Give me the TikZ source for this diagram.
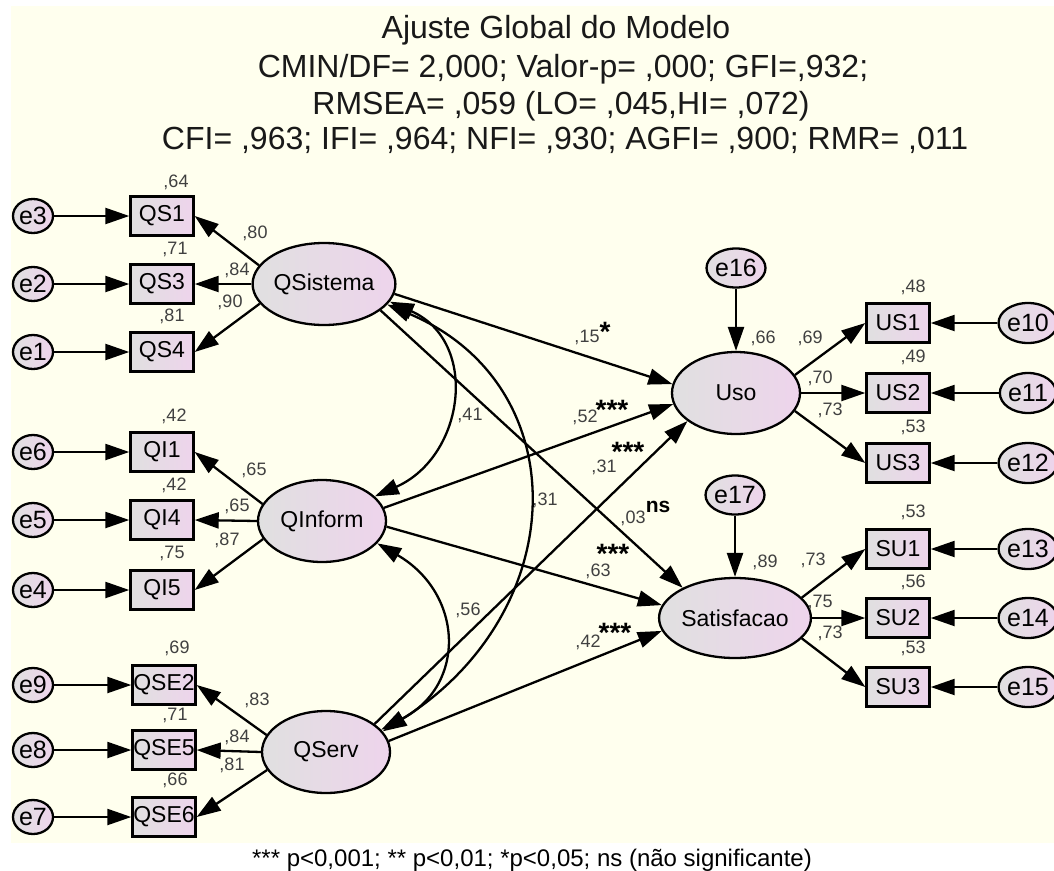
\documentclass[tikz,border=0pt]{standalone}
\usepackage{fontspec}
\setmainfont{Liberation Sans}
\usetikzlibrary{shapes.geometric,arrows.meta}
\definecolor{cream}{RGB}{255,255,238}
\definecolor{shgray}{RGB}{224,224,224}
\definecolor{shpink}{RGB}{238,212,236}
\definecolor{coefgray}{RGB}{64,64,64}
\newcommand{\fsz}[1]{\fontsize{#1}{#1}\selectfont}
\tikzset{
  shadefill/.style={left color=shgray, right color=shpink},
  latent/.style={ellipse, draw, line width=2.3pt, shadefill, inner sep=0pt,
    minimum width=128pt, minimum height=82pt, font=\fsz{23}},
  obsbox/.style={rectangle, draw, line width=2.4pt, shadefill, inner sep=0pt,
    minimum width=63pt, minimum height=39pt, font=\fsz{23}},
  errc/.style={ellipse, draw, line width=2.3pt, shadefill, inner sep=0pt,
    minimum width=40pt, minimum height=34pt, font=\fsz{25}},
  errbig/.style={errc, minimum width=48pt, minimum height=39pt},
  errr/.style={errc, minimum width=40pt, minimum height=40pt},
  tip/.tip={Triangle[length=24pt,width=16pt]},
  pth/.style={line width=2.3pt, -tip},
  cov/.style={line width=2.3pt, tip-tip},
  coef/.style={font=\fsz{18}, text=coefgray, inner sep=0pt},
  sig/.style={font=\bfseries\fsz{28}, anchor=base, inner sep=0pt, text depth=0pt},
  nsmark/.style={font=\bfseries\fsz{21}, inner sep=0pt},
  titleline/.style={font=\fsz{32}, text=black!90, anchor=base, inner sep=0pt},
}
\begin{document}
\begin{tikzpicture}[x=1pt,y=-1pt]
\useasboundingbox (0,0) rectangle (1054,870);
\fill[white] (0,0) rectangle (1054,870);
\fill[cream] (11,6) rectangle (1054,843);

% fit indices
\node[titleline] (t1) at (556,38) {Ajuste Global do Modelo};
\node[titleline] (t2) at (563,77) {CMIN/DF= 2,000; Valor-p= ,000; GFI=,932;};
\node[titleline] (t3) at (561,114) {RMSEA= ,059 (LO= ,045,HI= ,072)};
\node[titleline] (t4) at (565,149) {CFI= ,963; IFI= ,964; NFI= ,930; AGFI= ,900; RMR= ,011};

% ---- QSistema block
\node[latent] (QSistema) at (324,284) {QSistema};
\node[obsbox] (QS1) at (162,216) {QS1};
\node[obsbox] (QS3) at (162,284) {QS3};
\node[obsbox] (QS4) at (162,352) {QS4};
\node[errc] (e3) at (33,216) {e3};
\node[errc] (e2) at (33,284) {e2};
\node[errc] (e1) at (33,352) {e1};

% ---- QInform block
\node[latent] (QInform) at (322,521) {QInform};
\node[obsbox] (QI1) at (162,452) {QI1};
\node[obsbox] (QI4) at (162,520) {QI4};
\node[obsbox] (QI5) at (162,590) {QI5};
\node[errc] (e6) at (33,452) {e6};
\node[errc] (e5) at (33,520) {e5};
\node[errc] (e4) at (33,590) {e4};

% ---- QServ block
\node[latent] (QServ) at (326,752) {QServ};
\node[obsbox] (QSE2) at (164,685) {QSE2};
\node[obsbox] (QSE5) at (164,750) {QSE5};
\node[obsbox] (QSE6) at (164,817) {QSE6};
\node[errc] (e9) at (33,685) {e9};
\node[errc] (e8) at (33,750) {e8};
\node[errc] (e7) at (33,817) {e7};

% ---- Uso block
\node[latent] (Uso) at (736,393) {Uso};
\node[errbig] (e16) at (736,268) {e16};
\node[obsbox] (US1) at (898,323) {US1};
\node[obsbox] (US2) at (898,393) {US2};
\node[obsbox] (US3) at (898,463) {US3};
\node[errr] (e10) at (1028,323) {e10};
\node[errr] (e11) at (1028,393) {e11};
\node[errr] (e12) at (1028,463) {e12};

% ---- Satisfacao block
\node[latent, minimum width=125pt, minimum height=80pt] (Satisfacao) at (735,618) {Satisfacao};
\node[errbig] (e17) at (735,495) {e17};
\node[obsbox] (SU1) at (898,549) {SU1};
\node[obsbox] (SU2) at (898,618) {SU2};
\node[obsbox] (SU3) at (898,687) {SU3};
\node[errr] (e13) at (1028,549) {e13};
\node[errr] (e14) at (1028,618) {e14};
\node[errr] (e15) at (1028,687) {e15};

% error terms
\foreach \e/\v in {e3/QS1,e2/QS3,e1/QS4,e6/QI1,e5/QI4,e4/QI5,e9/QSE2,e8/QSE5,e7/QSE6,
                   e10/US1,e11/US2,e12/US3,e13/SU1,e14/SU2,e15/SU3,e16/Uso,e17/Satisfacao}
  \draw[pth] (\e) -- (\v);

% measurement loadings
\foreach \f/\a/\b/\c in {QSistema/QS1/QS3/QS4, QInform/QI1/QI4/QI5, QServ/QSE2/QSE5/QSE6}{
  \draw[pth] (\f.164) -- (\a.east);
  \draw[pth] (\f.180) -- (\b.east);
  \draw[pth] (\f.197) -- (\c.east);
}
\foreach \f/\a/\b/\c in {Uso/US1/US2/US3, Satisfacao/SU1/SU2/SU3}{
  \draw[pth] (\f.17) -- (\a.west);
  \draw[pth] (\f.0) -- (\b.west);
  \draw[pth] (\f.343) -- (\c.west);
}

% structural paths
\draw[pth] (QSistema.352) -- (Uso.172);
\draw[pth] (QSistema.335) -- (Satisfacao.150);
\draw[pth] (QInform.12) -- (Uso.190);
\draw[pth] (QInform.355) -- (Satisfacao.170);
\draw[pth] (QServ.30) -- (Uso.210);
\draw[pth] (QServ.10) -- (Satisfacao.190);

% covariances
\draw[cov] (QSistema.345) .. controls +(90,40) and +(90,-40) .. (QInform.25);
\draw[cov] (QSistema.342) .. controls +(190,80) and +(190,-120) .. (QServ.20);
\draw[cov] (QInform.338) .. controls +(86,50) and +(86,-45) .. (QServ.22);

% coefficients: QSistema
\node[coef] (r64) at (176,182) {,64};
\node[coef] (l80) at (255,233) {,80};
\node[coef] (r71) at (175,249) {,71};
\node[coef] (l84) at (237,270) {,84};
\node[coef] (l90) at (230,302) {,90};
\node[coef] (r81) at (172,316) {,81};
% QInform
\node[coef] (r42a) at (174,416) {,42};
\node[coef] (l65a) at (254,470) {,65};
\node[coef] (r42b) at (174,485) {,42};
\node[coef] (l65b) at (237,506) {,65};
\node[coef] (l87) at (227,540) {,87};
\node[coef] (r75) at (172,553) {,75};
% QServ
\node[coef] (r69) at (177,648) {,69};
\node[coef] (l83) at (257,700) {,83};
\node[coef] (r71b) at (175,715) {,71};
\node[coef] (l84b) at (237,737) {,84};
\node[coef] (l81) at (232,765) {,81};
\node[coef] (r66) at (175,780) {,66};
% Uso
\node[coef] (r66u) at (763,338) {,66};
\node[coef] (l69u) at (810,338) {,69};
\node[coef] (l70u) at (820,378) {,70};
\node[coef] (l73u) at (830,410) {,73};
\node[coef] (r48) at (913,287) {,48};
\node[coef] (r49) at (913,357) {,49};
\node[coef] (r53u) at (913,427) {,53};
% Satisfacao
\node[coef] (r89) at (765,562) {,89};
\node[coef] (l73s) at (813,560) {,73};
\node[coef] (l75s) at (820,602) {,75};
\node[coef] (l73t) at (830,633) {,73};
\node[coef] (r53s) at (913,512) {,53};
\node[coef] (r56s) at (913,582) {,56};
\node[coef] (r53t) at (913,648) {,53};
% covariances
\node[coef] (c41) at (470,415) {,41};
\node[coef] (c31) at (545,500) {,31};
\node[coef] (c56) at (468,610) {,56};
% structural
\node[coef] (b15) at (587,337) {,15};
\node[sig] (s15) at (605,341) {*};
\node[coef] (b52) at (585,417) {,52};
\node[sig] (s52) at (612,419) {***};
\node[coef] (b31) at (604,467) {,31};
\node[sig] (s31) at (628,461) {***};
\node[coef] (b03) at (633,518) {,03};
\node[nsmark] (s03) at (658,507) {ns};
\node[coef] (b63) at (598,571) {,63};
\node[sig] (s63) at (613,563) {***};
\node[coef] (b42) at (588,642) {,42};
\node[sig] (s42) at (615,642) {***};

% significance legend
\node[font=\fsz{24}, anchor=base, inner sep=0pt] (legend) at (532,866)
  {*** p<0,001; ** p<0,01; *p<0,05; ns (não significante)};
\end{tikzpicture}
\end{document}
